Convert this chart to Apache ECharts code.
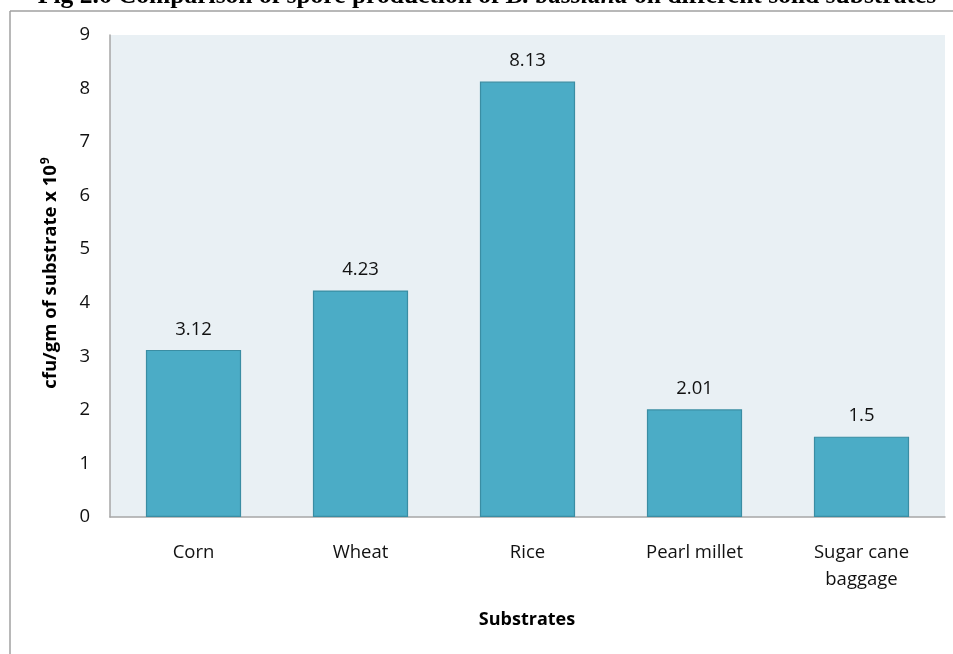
<!DOCTYPE html>
<html>
<head>
<meta charset="utf-8">
<script src="https://cdn.jsdelivr.net/npm/echarts@6/dist/echarts.min.js"></script>
<style>
html,body{margin:0;padding:0;background:#fff;}
#chart{width:953px;height:654px;}
</style>
</head>
<body>
<div id="chart"></div>
<script>
const categories = ['Corn', 'Wheat', 'Rice', 'Pearl millet', 'Sugar cane\nbaggage'];
const values = [3.12, 4.23, 8.13, 2.01, 1.5];
const valueLabels = ['3.12', '4.23', '8.13', '2.01', '1.5'];

const FONT = '"Open Sans"';
const chart = echarts.init(document.getElementById('chart'));
chart.setOption({
  backgroundColor: '#ffffff',
  animation: false,
  grid: { left: 110, right: 8, top: 35, bottom: 137, show: true, backgroundColor: '#E9F0F4', borderWidth: 0 },
  xAxis: {
    type: 'category',
    data: categories,
    axisLine: { lineStyle: { color: '#A6A6A6', width: 1.5 } },
    axisTick: { show: false },
    axisLabel: { color: '#111', fontFamily: FONT, fontSize: 18.5, margin: 22, lineHeight: 27 }
  },
  yAxis: {
    type: 'value',
    min: 0, max: 9, interval: 1,
    splitLine: { show: false },
    axisLine: { show: true, lineStyle: { color: '#A6A6A6', width: 1.5 } },
    axisTick: { show: false },
    axisLabel: { color: '#111', fontFamily: FONT, fontSize: 18.5, margin: 20 }
  },
  series: [{
    type: 'bar',
    data: values,
    barWidth: '57%',
    itemStyle: { color: '#4BACC6', borderColor: '#3A8DA3', borderWidth: 1.2 },
    label: {
      show: true, position: 'top', distance: 11,
      color: '#111', fontFamily: FONT, fontSize: 18.5,
      formatter: p => valueLabels[p.dataIndex]
    }
  }],
  graphic: [
    { type: 'line', shape: { x1: 10, y1: 11, x2: 953, y2: 11 }, style: { stroke: '#A0A0A0', lineWidth: 1.5 } },
    { type: 'line', shape: { x1: 10, y1: 11, x2: 10, y2: 654 }, style: { stroke: '#A0A0A0', lineWidth: 1.5 } },
    { type: 'text', x: 487, y: 9, style: {
        text: '{n|Fig 2.6 Comparison of spore production of }{i|B. bassiana}{n| on different solid substrates}',
        align: 'center', verticalAlign: 'bottom',
        rich: {
          n: { fontFamily: '"Liberation Serif"', fontWeight: 'bold', fontSize: 25.5, fill: '#000' },
          i: { fontFamily: '"Liberation Serif"', fontWeight: 'bold', fontStyle: 'italic', fontSize: 25.5, fill: '#000' }
        } } },
    { type: 'text', x: 50, y: 273, rotation: Math.PI / 2, style: {
        text: '{t|cfu/gm of substrate x 10}{s|9}',
        align: 'center', verticalAlign: 'middle',
        rich: {
          t: { fontFamily: FONT, fontWeight: 'bold', fontSize: 18.5, fill: '#000', verticalAlign: 'bottom' },
          s: { fontFamily: FONT, fontWeight: 'bold', fontSize: 12, fill: '#000', verticalAlign: 'top', padding: [0, 0, 9, 1] }
        } } },
    { type: 'text', x: 527, y: 620, style: { text: 'Substrates', font: 'bold 18px ' + FONT, fill: '#000', align: 'center', verticalAlign: 'middle' } }
  ]
});
</script>
</body>
</html>
